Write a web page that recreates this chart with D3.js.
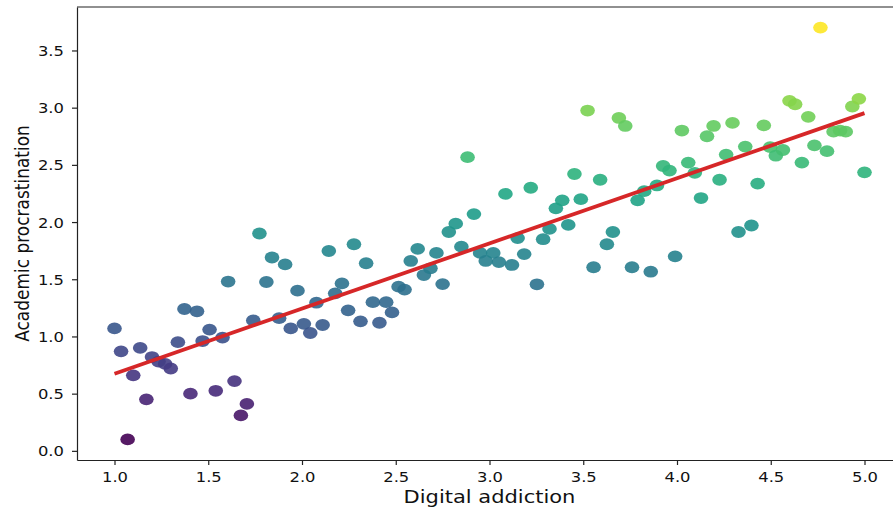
<!DOCTYPE html>
<html>
<head>
<meta charset="utf-8">
<script src="https://cdn.jsdelivr.net/npm/d3@7"></script>
<style>
  body { margin: 0; background: #fff; }
  text { font-family: "DejaVu Sans", sans-serif; fill: #111; }
</style>
</head>
<body>
<div id="chart"></div>
<script>
// ---------------- DATA ----------------
var digitalAddiction = [
  1.000, 1.035, 1.070, 1.100, 1.137, 1.170, 1.200, 1.235, 1.270, 1.300,
  1.338, 1.373, 1.405, 1.440, 1.470, 1.507, 1.540, 1.576, 1.606, 1.640,
  1.674, 1.706, 1.740, 1.773, 1.810, 1.840, 1.878, 1.910, 1.940, 1.976,
  2.010, 2.044, 2.077, 2.110, 2.143, 2.177, 2.213, 2.246, 2.277, 2.312,
  2.342, 2.378, 2.413, 2.449, 2.480, 2.515, 2.547, 2.580, 2.617, 2.650,
  2.685, 2.717, 2.750, 2.783, 2.820, 2.850, 2.883, 2.917, 2.950, 2.980,
  3.020, 3.050, 3.085, 3.120, 3.150, 3.185, 3.220, 3.253, 3.286, 3.320,
  3.354, 3.388, 3.420, 3.453, 3.487, 3.523, 3.555, 3.590, 3.626, 3.658,
  3.690, 3.724, 3.760, 3.790, 3.825, 3.860, 3.893, 3.926, 3.960, 3.990,
  4.026, 4.060, 4.095, 4.128, 4.160, 4.195, 4.227, 4.262, 4.296, 4.328,
  4.364, 4.397, 4.430, 4.463, 4.497, 4.527, 4.565, 4.600, 4.630, 4.666,
  4.700, 4.733, 4.765, 4.800, 4.835, 4.870, 4.900, 4.935, 4.970, 5.000
];
var procrastination = [
  1.07, 0.87, 0.10, 0.66, 0.90, 0.45, 0.82, 0.78, 0.76, 0.72,
  0.95, 1.24, 0.50, 1.22, 0.96, 1.06, 0.525, 0.99, 1.48, 0.61,
  0.31, 0.41, 1.14, 1.90, 1.476, 1.69, 1.16, 1.63, 1.07, 1.40,
  1.11, 1.03, 1.295, 1.10, 1.747, 1.377, 1.464, 1.228, 1.806, 1.132,
  1.64, 1.30, 1.12, 1.30, 1.21, 1.435, 1.41, 1.66, 1.765, 1.537,
  1.596, 1.73, 1.458, 1.913, 1.986, 1.785, 2.567, 2.07, 1.73, 1.66,
  1.73, 1.65, 2.246, 1.625, 1.86, 1.72, 2.30, 1.456, 1.85, 1.94,
  2.12, 2.19, 1.975, 2.42, 2.20, 2.975, 1.605, 2.37, 1.806, 1.913,
  2.91, 2.84, 1.605, 2.19, 2.27, 1.566, 2.32, 2.49, 2.45, 1.70,
  2.80, 2.52, 2.43, 2.21, 2.75, 2.84, 2.37, 2.59, 2.867, 1.913,
  2.66, 1.97, 2.336, 2.845, 2.655, 2.58, 2.63, 3.06, 3.03, 2.52,
  2.92, 2.67, 3.70, 2.62, 2.79, 2.80, 2.79, 3.01, 3.077, 2.435
];
// fitted line end points
var fitX = [1.0, 5.0];
var fitY = [0.674, 2.952];

var xTicks = [1.0, 1.5, 2.0, 2.5, 3.0, 3.5, 4.0, 4.5, 5.0];
var yTicks = [0.0, 0.5, 1.0, 1.5, 2.0, 2.5, 3.0, 3.5];

(function () {
    // ---------------- SETUP ----------------
    var width = 893, height = 509;
    var plotLeft = 77, plotRight = 902, plotTop = 7, plotBottom = 460;

    var svg = d3.select("#chart").append("svg")
        .attr("width", width)
        .attr("height", height);

    var x = d3.scaleLinear().domain([0.8, 5.2]).range([plotLeft, plotRight]);
    var y = d3.scaleLinear().domain([-0.08, 3.88]).range([plotBottom, plotTop]);

    var color = d3.scaleSequential(d3.interpolateViridis)
        .domain(d3.extent(procrastination));

    var points = digitalAddiction.map(function (d, i) {
        return { x: d, y: procrastination[i] };
    });

    // ---------------- POINTS ----------------
    svg.append("g").selectAll("ellipse")
        .data(points)
        .enter().append("ellipse")
        .attr("cx", function (d) { return x(d.x); })
        .attr("cy", function (d) { return y(d.y); })
        .attr("rx", 7.3)
        .attr("ry", 5.9)
        .attr("fill", function (d) { return color(d.y); })
        .attr("fill-opacity", 0.9);

    // ---------------- REGRESSION LINE ----------------
    var line = d3.line()
        .x(function (d) { return x(d[0]); })
        .y(function (d) { return y(d[1]); });

    svg.append("path")
        .datum(fitX.map(function (d, i) { return [d, fitY[i]]; }))
        .attr("d", line)
        .attr("fill", "none")
        .attr("stroke", "#d62728")
        .attr("stroke-width", 3.8);

    // ---------------- AXES ----------------
    var xAxis = svg.append("g")
        .attr("transform", "translate(0," + plotBottom + ")")
        .call(d3.axisBottom(x).tickValues(xTicks).tickFormat(d3.format(".1f"))
            .tickSize(5).tickSizeOuter(0));

    var yAxis = svg.append("g")
        .attr("transform", "translate(" + plotLeft + ",0)")
        .call(d3.axisLeft(y).tickValues(yTicks).tickFormat(d3.format(".1f"))
            .tickSize(5).tickSizeOuter(0));

    [xAxis, yAxis].forEach(function (g) {
        g.attr("font-size", null).attr("font-family", null);
        g.select(".domain").attr("stroke", "#222").attr("stroke-width", 1.2);
        g.selectAll(".tick line").attr("stroke", "#222").attr("stroke-width", 1.2);
        g.selectAll(".tick text").style("font-size", "14.5px").attr("fill", "#111");
    });

    // stretch tick labels a bit horizontally like the picture
    xAxis.selectAll(".tick text")
        .attr("y", null).attr("dy", null)
        .attr("transform", "translate(0,22) scale(1.13,1)");
    yAxis.selectAll(".tick text")
        .attr("x", null).attr("dy", "0.35em")
        .attr("transform", "translate(-13,0) scale(1.13,1)");

    // top spine
    svg.append("line")
        .attr("x1", plotLeft).attr("x2", plotRight)
        .attr("y1", plotTop).attr("y2", plotTop)
        .attr("stroke", "#222").attr("stroke-width", 1.2);

    // ---------------- LABELS ----------------
    svg.append("text")
        .attr("transform", "translate(" + ((plotLeft + plotRight) / 2) + ",503) scale(1.2,1)")
        .attr("text-anchor", "middle")
        .style("font-size", "17.5px")
        .text("Digital addiction");

    svg.append("text")
        .attr("transform", "translate(29," + ((plotTop + plotBottom) / 2) + ") scale(1.15,1) rotate(-90)")
        .attr("text-anchor", "middle")
        .style("font-size", "17px")
        .text("Academic procrastination");
})();
</script>
</body>
</html>
